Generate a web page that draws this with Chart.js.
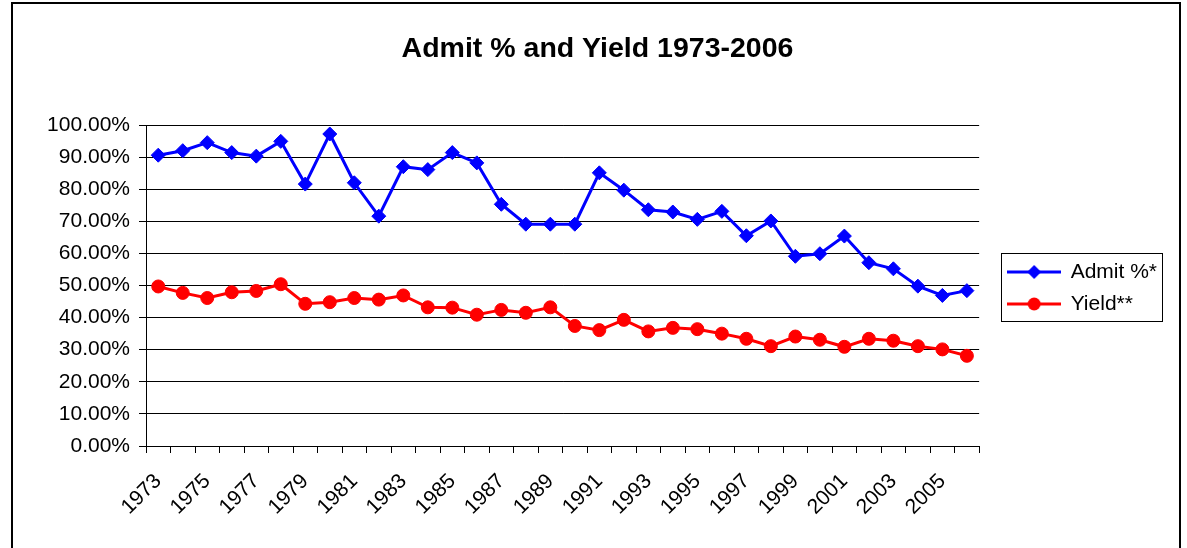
<!DOCTYPE html>
<html>
<head>
<meta charset="utf-8">
<script src="https://cdn.jsdelivr.net/npm/chart.js@4.4.1/dist/chart.umd.min.js"></script>
<style>
  html, body { margin: 0; padding: 0; background: #fff; }
  #wrap { position: relative; width: 1187px; height: 548px; }
</style>
</head>
<body>
<div id="wrap"><canvas id="myChart"></canvas></div>
<script>
const years = [
  '1973', '1974', '1975', '1976', '1977', '1978', '1979', '1980', '1981', '1982',
  '1983', '1984', '1985', '1986', '1987', '1988', '1989', '1990', '1991', '1992',
  '1993', '1994', '1995', '1996', '1997', '1998', '1999', '2000', '2001', '2002',
  '2003', '2004', '2005', '2006'
];

// Admit %* (percent)
const admit = [
  90.6, 92.0, 94.5, 91.4, 90.3, 94.9, 81.6, 97.2, 82.0, 71.6,
  87.0, 86.1, 91.4, 88.2, 75.3, 69.1, 69.1, 69.1, 85.1, 79.7,
  73.6, 72.9, 70.6, 73.1, 65.5, 70.1, 59.1, 59.9, 65.4, 57.1,
  55.2, 49.8, 46.9, 48.4
];

// Yield** (percent)
const yieldPct = [
  49.7, 47.7, 46.1, 47.9, 48.3, 50.4, 44.3, 44.8, 46.1, 45.6,
  46.9, 43.2, 43.1, 40.9, 42.4, 41.5, 43.2, 37.4, 36.1, 39.3,
  35.7, 36.8, 36.4, 35.0, 33.4, 31.1, 34.1, 33.1, 30.9, 33.4,
  32.8, 31.1, 30.1, 28.1
];

const yMin = 0;
const yMax = 100;
const yStep = 10;

Chart.defaults.font.family = "'Liberation Sans', Arial, sans-serif";
Chart.defaults.color = '#000';

// legend icons: line with marker, like excel
function makeIcon(color, shape) {
  const c = document.createElement('canvas');
  c.width = 54;
  c.height = 16;
  const g = c.getContext('2d');
  g.strokeStyle = color;
  g.fillStyle = color;
  g.lineWidth = 3;
  g.beginPath();
  g.moveTo(0, 8);
  g.lineTo(54, 8);
  g.stroke();
  g.beginPath();
  if (shape === 'diamond') {
    g.moveTo(27, 1);
    g.lineTo(34, 8);
    g.lineTo(27, 15);
    g.lineTo(20, 8);
    g.closePath();
  } else {
    g.arc(27, 8, 6.5, 0, Math.PI * 2);
  }
  g.fill();
  return c;
}
const legendIcons = [makeIcon('#0000ff', 'diamond'), makeIcon('#ff0000', 'circle')];

// frame around the whole chart + box around the legend
const framePlugin = {
  id: 'frame',
  afterLayout(chart) {
    chart.legend.left += 18;
    chart.legend.right += 18;
    chart.legend.top += 25;
    chart.legend.bottom += 25;
  },
  beforeDraw(chart) {
    const c = chart.ctx;
    c.save();
    c.fillStyle = '#fff';
    c.fillRect(0, 0, chart.width, chart.height);
    c.strokeStyle = '#000';
    c.lineWidth = 2;
    c.strokeRect(12, 3, 1168, 600);
    c.restore();
  },
  afterDraw(chart) {
    const boxes = chart.legend.legendHitBoxes;
    if (!boxes || !boxes.length) return;
    const left = Math.min(...boxes.map(b => b.left)) - 7;
    const top = Math.min(...boxes.map(b => b.top)) - 9;
    const right = Math.max(...boxes.map(b => b.left + b.width)) + 5;
    const bottom = Math.max(...boxes.map(b => b.top + b.height)) + 6;
    const c = chart.ctx;
    c.save();
    c.strokeStyle = '#000';
    c.lineWidth = 1;
    c.strokeRect(Math.round(left) + 0.5, Math.round(top) + 0.5, Math.round(right - left), Math.round(bottom - top));
    c.restore();
  }
};

const ctx = document.getElementById('myChart');
const chart = new Chart(ctx, {
  type: 'line',
  data: {
    labels: years,
    datasets: [
      {
        label: 'Admit %*',
        data: admit,
        borderColor: '#0000ff',
        backgroundColor: '#0000ff',
        borderWidth: 3,
        pointStyle: 'rectRot',
        pointRadius: 7,
        pointBorderWidth: 1,
        tension: 0
      },
      {
        label: 'Yield**',
        data: yieldPct,
        borderColor: '#ff0000',
        backgroundColor: '#ff0000',
        borderWidth: 3,
        pointStyle: 'circle',
        pointRadius: 6.5,
        pointBorderWidth: 1,
        tension: 0
      }
    ]
  },
  options: {
    responsive: true,
    maintainAspectRatio: false,
    animation: false,
    layout: {
      padding: { left: 46, right: 38, top: 0, bottom: 22 }
    },
    plugins: {
      title: {
        display: true,
        text: 'Admit % and Yield 1973-2006',
        font: { size: 28.5, weight: 'bold' },
        color: '#000',
        padding: { top: 32, bottom: 58.8 }
      },
      legend: {
        display: true,
        position: 'right',
        labels: {
          usePointStyle: true,
          pointStyleWidth: 52,
          padding: 11,
          font: { size: 21 },
          color: '#000',
          generateLabels(chart) {
            return chart.data.datasets.map((ds, i) => ({
              text: ds.label,
              pointStyle: legendIcons[i],
              datasetIndex: i,
              hidden: false,
              fontColor: '#000',
              lineWidth: 0,
              strokeStyle: 'transparent',
              fillStyle: 'transparent'
            }));
          }
        }
      },
      tooltip: { enabled: false }
    },
    scales: {
      x: {
        offset: true,
        afterFit(scale) { scale.height = 80; },
        grid: {
          display: true,
          drawOnChartArea: false,
          drawTicks: true,
          tickLength: 7,
          color: '#000',
          offset: true
        },
        border: { display: true, color: '#000', width: 1 },
        ticks: {
          autoSkip: false,
          maxRotation: 45,
          minRotation: 45,
          padding: 16,
          font: { size: 21 },
          color: '#000',
          callback(value, index) {
            return index % 2 === 0 ? this.getLabelForValue(value) : '';
          }
        }
      },
      y: {
        min: yMin,
        max: yMax,
        afterFit(scale) { scale.width = 100; },
        grid: {
          color: '#000',
          tickLength: 7,
          drawTicks: true
        },
        border: { display: true, color: '#000', width: 1 },
        ticks: {
          stepSize: yStep,
          padding: 9,
          font: { size: 21 },
          color: '#000',
          callback(value) {
            return value.toFixed(2) + '%';
          }
        }
      }
    }
  },
  plugins: [framePlugin]
});
</script>
</body>
</html>
